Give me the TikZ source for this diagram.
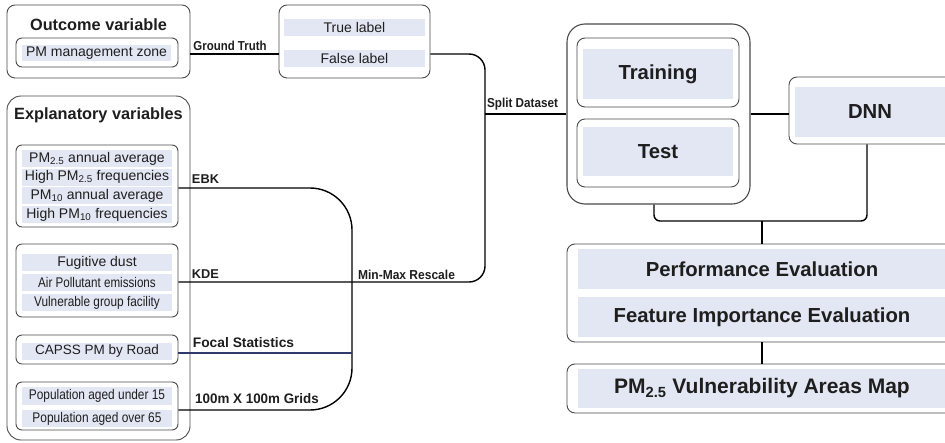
\documentclass[tikz,border=0pt]{standalone}
\usepackage{fontspec}
\setmainfont{Liberation Sans}
\usepackage{graphicx}
\newcommand{\fsz}[1]{\fontsize{#1}{#1}\selectfont}
\newcommand{\cnd}[2]{\scalebox{#1}[1]{#2}}
\definecolor{rowfill}{HTML}{E2E7F3}
\definecolor{boxline}{HTML}{4A4A4A}
\definecolor{txt}{HTML}{1E1E1E}
\definecolor{navyline}{HTML}{2E3A6E}
\tikzset{
  obox/.style={draw=boxline, line width=0.9pt, rounded corners=8pt, inner sep=0pt, fill=white},
  ibox/.style={draw=boxline, line width=0.9pt, rounded corners=6pt, inner sep=0pt, fill=white},
  rowbox/.style={fill=rowfill, draw=none, inner sep=0pt, text=txt, font=\fsz{14}},
  bigrow/.style={fill=rowfill, draw=none, inner sep=0pt, text=txt, font=\bfseries\fsz{20.3}},
  ttl/.style={inner sep=0pt, text=txt, font=\bfseries\fsz{16.3}},
  lbl/.style={inner sep=0pt, text=txt, font=\bfseries\fsz{#1}},
  conn/.style={draw=black, line width=1.4pt},
}
\begin{document}
\begin{tikzpicture}[x=1pt,y=-1pt]
\useasboundingbox (0,0) rectangle (945,442);
\begin{scope}
\clip (0,0) rectangle (945,442);
% Outcome variable
\node[obox, minimum width=183pt, minimum height=73pt] (outcome) at (98.5,41.5) {};
\node[ttl] (outtitle) at (98.5,25) {Outcome variable};
\node[ibox, minimum width=162pt, minimum height=29pt] (pmzbox) at (97,52.5) {};
\node[rowbox, minimum width=149pt, minimum height=16pt] (pmz) at (96.5,53) {PM management zone};
% Labels
\node[obox, minimum width=151pt, minimum height=73pt] (labels) at (354.5,41.5) {};
\node[rowbox, minimum width=141pt, minimum height=17pt] (truel) at (354.5,27.5) {True label};
\node[rowbox, minimum width=141pt, minimum height=17pt] (falsel) at (354.5,58) {False label};
% Explanatory variables
\node[obox, minimum width=183pt, minimum height=344pt, rounded corners=14pt] (explan) at (98.5,268) {};
\node[ttl] (extitle) at (98.5,115) {Explanatory variables};
\node[ibox, minimum width=162pt, minimum height=82pt] (pmbox) at (97,186) {};
\node[rowbox, minimum width=150pt, minimum height=17pt] (r1) at (97,158.5) {PM\textsubscript{2.5} annual average};
\node[rowbox, minimum width=150pt, minimum height=17pt] (r2) at (97,177) {High PM\textsubscript{2.5} frequencies};
\node[rowbox, minimum width=150pt, minimum height=17pt] (r3) at (97,195.5) {PM\textsubscript{10} annual average};
\node[rowbox, minimum width=150pt, minimum height=17pt] (r4) at (97,214.5) {High PM\textsubscript{10} frequencies};
\node[ibox, minimum width=162pt, minimum height=73pt] (fugbox) at (97,280.5) {};
\node[rowbox, minimum width=150pt, minimum height=17pt] (f1) at (97,262.5) {Fugitive dust};
\node[rowbox, minimum width=150pt, minimum height=17pt] (f2) at (97,282.5) {\cnd{0.83}{Air Pollutant emissions}};
\node[rowbox, minimum width=150pt, minimum height=17pt] (f3) at (97,302.5) {\cnd{0.845}{Vulnerable group facility}};
\node[ibox, minimum width=162pt, minimum height=29pt] (capbox) at (97,349.5) {};
\node[rowbox, minimum width=150pt, minimum height=17pt, font=\fsz{13.5}] (c1) at (97,351) {CAPSS PM by Road};
\node[ibox, minimum width=162pt, minimum height=48pt] (popbox) at (97,406) {};
\node[rowbox, minimum width=150pt, minimum height=18pt] (p1) at (97,396) {\cnd{0.85}{Population aged under 15}};
\node[rowbox, minimum width=150pt, minimum height=17pt] (p2) at (97,418.5) {\cnd{0.85}{Population aged over 65}};
% Train/Test
\node[obox, minimum width=183pt, minimum height=180pt, rounded corners=18pt, line width=1.1pt] (tt) at (658.5,114) {};
\node[ibox, minimum width=162pt, minimum height=69pt, rounded corners=8pt] (trainbox) at (658,72.5) {};
\node[bigrow, minimum width=150pt, minimum height=50pt] (train) at (658,74) {Training};
\node[ibox, minimum width=162pt, minimum height=68pt, rounded corners=8pt] (testbox) at (658,153) {};
\node[bigrow, minimum width=150pt, minimum height=49pt] (test) at (658,151.5) {Test};
% DNN
\node[obox, minimum width=166pt, minimum height=67pt] (dnn) at (872,110.5) {};
\node[bigrow, minimum width=155pt, minimum height=50pt] (dnnf) at (872.5,112) {\hspace*{-5pt}DNN};
% Evaluation
\node[obox, minimum width=388pt, minimum height=98pt] (eval) at (761,293) {};
\node[bigrow, minimum width=368pt, minimum height=40pt] (perf) at (762,269) {Performance Evaluation};
\node[bigrow, minimum width=368pt, minimum height=40pt] (feat) at (762,317) {Feature Importance Evaluation};
% Map
\node[obox, minimum width=388pt, minimum height=49pt] (map) at (761,388.5) {};
\node[bigrow, minimum width=368pt, minimum height=39pt, font=\bfseries\fsz{21}] (mapf) at (762,388.5) {PM\textsubscript{2.5} Vulnerability Areas Map};
\end{scope}
% coordinates
\coordinate (gt) at (0,54);
\coordinate (brTop) at (485,54);
\coordinate (brBot) at (485,282);
\coordinate (vTop) at (352,188);
\coordinate (vBot) at (352,410);
\coordinate (focal) at (352,353);
\coordinate (split) at (485,114);
\coordinate (jl) at (654,221);
\coordinate (jr) at (867,221);
\coordinate (jn) at (762,221);
% connectors
\draw[conn] (outcome.east |- gt) -- (labels.west |- gt);
\draw[conn, rounded corners=16pt] (labels.east |- brTop) -- (brTop) -- (brBot) -- (fugbox.east |- brBot);
\draw[conn, rounded corners=42pt] (pmbox.east |- vTop) -- (vTop) -- (vBot) -- (popbox.east |- vBot);
\draw[draw=navyline, line width=1.4pt] (capbox.east |- focal) -- (focal);
\draw[conn] (split) -- (tt.west |- split);
\draw[conn] (tt.east |- split) -- (dnn.west |- split);
\draw[conn, rounded corners=6pt] (tt.south -| jl) -- (jl) -- (jr) -- (dnn.south -| jr);
\draw[conn] (jn) -- (eval.north -| jn);
\draw[conn] (eval.south -| jn) -- (map.north -| jn);
% connector labels
\node[lbl=13] (gtl) at (230,45.5) {\cnd{0.88}{Ground Truth}};
\node[lbl=12.8] (ebk) at (205.5,179.5) {EBK};
\node[lbl=12.8] (kde) at (205.5,274.5) {KDE};
\node[lbl=13] (mmr) at (406.5,275) {\cnd{0.925}{Min-Max Rescale}};
\node[lbl=13.8] (fst) at (243.5,342.5) {Focal Statistics};
\node[lbl=13.8] (grd) at (257,399) {\cnd{0.97}{100m X 100m Grids}};
\node[lbl=13] (spl) at (522.5,104) {\cnd{0.9}{Split Dataset}};
\end{tikzpicture}
\end{document}
